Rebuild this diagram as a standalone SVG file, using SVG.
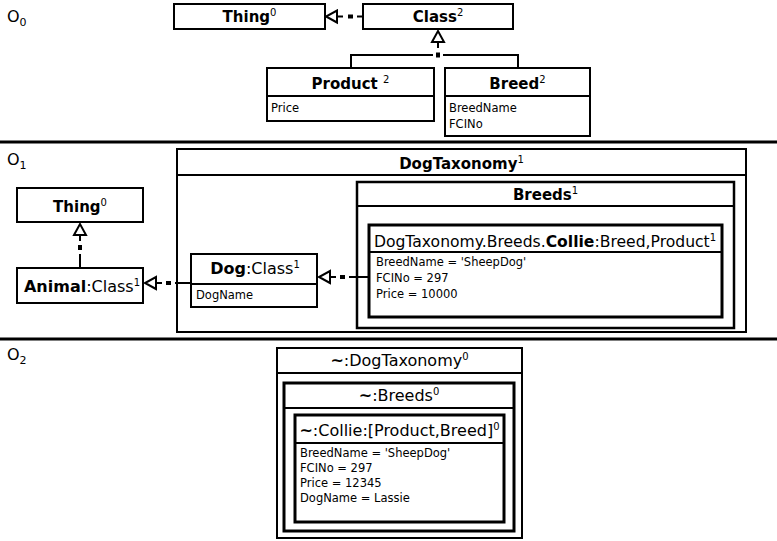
<svg xmlns="http://www.w3.org/2000/svg" width="777" height="541" viewBox="0 0 777 541">
  <style>
    text { font-family: "DejaVu Sans", Verdana, sans-serif; fill: #000; }
    .box { fill: #fff; stroke: #000; stroke-width: 2; }
    .box3 { fill: none; stroke: #000; stroke-width: 3; }
    .box25 { fill: none; stroke: #000; stroke-width: 2.5; }
    .div { stroke: #000; stroke-width: 2; fill: none; }
    .sep { stroke: #000; stroke-width: 3; }
    .ttl { font-size: 15px; text-anchor: middle; }
    .ttr { font-size: 16px; text-anchor: middle; }
    .ttr.long { font-size: 15.6px; }
    .b { font-weight: bold; }
    .attr { font-size: 11.5px; }
    .lvl { font-size: 16px; }
    .conn { stroke: #000; stroke-width: 2; fill: none; }
    .dot { stroke: #000; stroke-width: 4; fill: none; }
    .arr { stroke: #000; stroke-width: 2; fill: none; marker-end: url(#tri); }
  </style>
  <defs>
    <!-- hollow triangle head for specialisation / instance-of links -->
    <marker id="tri" viewBox="-2 -2 16 16" markerWidth="16" markerHeight="16" refX="0" refY="6" orient="auto" markerUnits="userSpaceOnUse">
      <path d="M0,0 L11,6 L0,12 Z" fill="#fff" stroke="#000" stroke-width="2"/>
    </marker>
  </defs>

  <rect width="777" height="541" fill="#fff"/>

  <!-- level separators -->
  <line class="sep" x1="0" y1="142" x2="777" y2="142"/>
  <line class="sep" x1="0" y1="339" x2="777" y2="339"/>

  <!-- level labels -->
  <text class="lvl" x="7" y="22">O<tspan font-size="11" dy="4">0</tspan></text>
  <text class="lvl" x="7" y="165">O<tspan font-size="11" dy="4">1</tspan></text>
  <text class="lvl" x="7" y="360">O<tspan font-size="11" dy="4">2</tspan></text>

  <!-- O0 -->
  <g id="o0-thing">
    <rect class="box" x="174" y="4" width="151" height="25"/>
    <text class="ttl b" x="249.5" y="22">Thing<tspan font-size="10" font-weight="normal" dy="-6">0</tspan></text>
  </g>
  <g id="o0-class">
    <rect class="box" x="363" y="4" width="150" height="25"/>
    <text class="ttl b" x="438" y="22">Class<tspan font-size="10" font-weight="normal" dy="-6">2</tspan></text>
  </g>
  <g id="o0-product">
    <rect class="box" x="267" y="68" width="167" height="53"/>
    <line class="div" x1="267" y1="96" x2="434" y2="96"/>
    <text class="ttl b" x="350.5" y="89">Product <tspan font-size="10" font-weight="normal" dy="-6">2</tspan></text>
    <text class="attr" x="271" y="112">Price</text>
  </g>
  <g id="o0-breed">
    <rect class="box" x="445" y="68" width="145" height="68"/>
    <line class="div" x1="445" y1="96" x2="590" y2="96"/>
    <text class="ttl b" x="517.5" y="89">Breed<tspan font-size="10" font-weight="normal" dy="-6">2</tspan></text>
    <text class="attr" x="449" y="112">BreedName</text>
    <text class="attr" x="449" y="128">FCINo</text>
  </g>

  <!-- O1 -->
  <g id="o1-thing">
    <rect class="box" x="17" y="188" width="126" height="34"/>
    <text class="ttl b" x="80" y="212">Thing<tspan font-size="10" font-weight="normal" dy="-6">0</tspan></text>
  </g>
  <g id="o1-animal">
    <rect class="box" x="17" y="268" width="126" height="35"/>
    <text class="ttr" x="82" y="292"><tspan font-weight="bold">Animal</tspan>:Class<tspan font-size="10" dy="-6">1</tspan></text>
  </g>
  <g id="o1-dogtaxonomy">
    <rect class="box" x="177" y="149" width="569" height="183"/>
    <line class="div" x1="177" y1="175" x2="746" y2="175"/>
    <text class="ttl b" x="461.5" y="169">DogTaxonomy<tspan font-size="10" font-weight="normal" dy="-6">1</tspan></text>
  </g>
  <g id="o1-dog">
    <rect class="box" x="191" y="254" width="126" height="53"/>
    <line class="div" x1="191" y1="284" x2="317" y2="284"/>
    <text class="ttr" x="255" y="274"><tspan font-weight="bold">Dog</tspan>:Class<tspan font-size="10" dy="-6">1</tspan></text>
    <text class="attr" x="196" y="299">DogName</text>
  </g>
  <g id="o1-breeds">
    <rect class="box25" x="357" y="182" width="377" height="146"/>
    <line class="div" x1="357" y1="206" x2="734" y2="206"/>
    <text class="ttl b" x="545.5" y="200">Breeds<tspan font-size="10" font-weight="normal" dy="-6">1</tspan></text>
  </g>
  <g id="o1-collie">
    <rect class="box3" x="369" y="225" width="353" height="92"/>
    <line class="div" x1="369" y1="252" x2="722" y2="252"/>
    <text class="ttr long" x="545" y="247">DogTaxonomy.Breeds.<tspan font-weight="bold">Collie</tspan>:Breed,Product<tspan font-size="10" dy="-6">1</tspan></text>
    <text class="attr" x="376" y="266">BreedName = 'SheepDog'</text>
    <text class="attr" x="376" y="282">FCINo = 297</text>
    <text class="attr" x="376" y="298">Price = 10000</text>
  </g>

  <!-- O2 -->
  <g id="o2-dogtaxonomy">
    <rect class="box" x="277" y="348" width="245" height="190"/>
    <line class="div" x1="277" y1="373" x2="522" y2="373"/>
    <text class="ttr" x="399.5" y="366"><tspan font-weight="bold">~</tspan>:DogTaxonomy<tspan font-size="10" dy="-6">0</tspan></text>
  </g>
  <g id="o2-breeds">
    <rect class="box3" x="284" y="383" width="230" height="148"/>
    <line class="div" x1="284" y1="408" x2="514" y2="408"/>
    <text class="ttr" x="399" y="401"><tspan font-weight="bold">~</tspan>:Breeds<tspan font-size="10" dy="-6">0</tspan></text>
  </g>
  <g id="o2-collie">
    <rect class="box3" x="295" y="415" width="209" height="107"/>
    <line class="div" x1="295" y1="443" x2="504" y2="443"/>
    <text class="ttr" x="399.5" y="436"><tspan font-weight="bold">~</tspan>:Collie:[Product,Breed]<tspan font-size="10" dy="-6">0</tspan></text>
    <text class="attr" x="300" y="457">BreedName = 'SheepDog'</text>
    <text class="attr" x="300" y="472">FCINo = 297</text>
    <text class="attr" x="300" y="487">Price = 12345</text>
    <text class="attr" x="300" y="502">DogName = Lassie</text>
  </g>

  <!-- connectors, drawn over the container boxes -->
  <g id="connectors">
    <!-- Class -> Thing -->
    <g id="c-class-thing">
      <path class="conn" d="M363,16.5 H357"/>
      <path class="dot" d="M353,16.5 H348"/>
      <path class="arr" d="M343,16.5 H337"/>
    </g>
    <!-- Product, Breed -> Class -->
    <g id="c-tree-class">
      <path class="conn" d="M433,55 H351 V68"/>
      <path class="conn" d="M443,55 H518 V68"/>
      <path class="dot" d="M438,57.5 V52.5"/>
      <path class="arr" d="M438,48 V42"/>
    </g>
    <!-- Animal -> Thing -->
    <g id="c-animal-thing">
      <path class="conn" d="M80,268 V254"/>
      <path class="dot" d="M80,250 V245"/>
      <path class="arr" d="M80,241 V235"/>
    </g>
    <!-- Dog -> Animal -->
    <g id="c-dog-animal">
      <path class="conn" d="M191,283 H175"/>
      <path class="dot" d="M171,283 H166"/>
      <path class="arr" d="M162,283 H156"/>
    </g>
    <!-- Collie -> Dog -->
    <g id="c-collie-dog">
      <path class="conn" d="M369,277 H349"/>
      <path class="dot" d="M345,277 H340"/>
      <path class="arr" d="M336,277 H330"/>
    </g>
  </g>
</svg>
